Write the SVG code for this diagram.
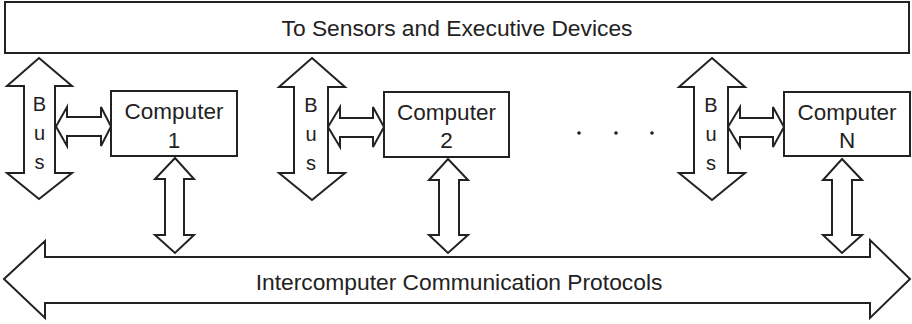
<svg xmlns="http://www.w3.org/2000/svg" width="912" height="324" viewBox="0 0 912 324">
<style>
.s{fill:#fff;stroke:#222;stroke-width:2;stroke-linejoin:miter}
.t{font-family:"Liberation Sans",Arial,sans-serif;fill:#222;text-anchor:middle}
.big{font-size:22.8px}
.cmp{font-size:22.5px}
.bus{font-size:20px}
</style>
<rect width="912" height="324" fill="#fff"/>
<g id="sensors">
<rect class="s" x="5" y="2" width="904" height="51"/>
<text class="t big" x="457" y="36">To Sensors and Executive Devices</text>
</g>
<g id="protocols">
<polygon class="s" points="4,279 45,241 45,257 870,257 870,240 910,279 870,318 870,303 45,303 45,318"/>
<text class="t big" x="459" y="290">Intercomputer Communication Protocols</text>
</g>
<g id="bus1">
<polygon class="s" points="39,58 72,86 55,86 55,173 72,173 39,199 7,173 24,173 24,86 7,86"/>
<text class="t bus" x="39.5" y="111">B</text>
<text class="t bus" x="39.5" y="140">u</text>
<text class="t bus" x="39.5" y="169">s</text>
</g>
<g id="bus2">
<polygon class="s" points="312,58 345,87 328,87 328,173 345,173 312,200 279,173 294,173 294,87 279,87"/>
<text class="t bus" x="311" y="112">B</text>
<text class="t bus" x="311" y="141">u</text>
<text class="t bus" x="311" y="170">s</text>
</g>
<g id="bus3">
<polygon class="s" points="712,58 745,87 728,87 728,173 745,173 712,200 679,173 694,173 694,87 679,87"/>
<text class="t bus" x="711" y="112">B</text>
<text class="t bus" x="711" y="141">u</text>
<text class="t bus" x="711" y="170">s</text>
</g>
<g id="computer1">
<rect class="s" x="111" y="91" width="126" height="65"/>
<text class="t cmp" x="174" y="119">Computer</text>
<text class="t cmp" x="174" y="148">1</text>
</g>
<g id="computer2">
<rect class="s" x="384" y="92" width="125" height="65"/>
<text class="t cmp" x="446.5" y="120">Computer</text>
<text class="t cmp" x="446.5" y="148">2</text>
</g>
<g id="computerN">
<rect class="s" x="784" y="92" width="126" height="64"/>
<text class="t cmp" x="847" y="120">Computer</text>
<text class="t cmp" x="847" y="148">N</text>
</g>
<g id="dots" fill="#222">
<circle cx="579" cy="133" r="1.8"/>
<circle cx="616" cy="133" r="1.8"/>
<circle cx="652" cy="133" r="1.8"/>
</g>
<g id="connectors">
<polygon class="s" points="56,126.5 67,107 67,117 101,117 101,107 111,126.5 101,146 101,136 67,136 67,146"/>
<polygon class="s" points="328,127 340,107 340,118 373,118 373,107 384,127 373,147 373,137 340,137 340,147"/>
<polygon class="s" points="728,127 740,107 740,118 773,118 773,107 784,127 773,147 773,137 740,137 740,147"/>
<polygon class="s" points="175,158 194,179 184,179 184,235 194,235 175,253 155,235 165,235 165,179 155,179"/>
<polygon class="s" points="448,159 468,180 459,180 459,235 468,235 448,253 429,235 439,235 439,180 429,180"/>
<polygon class="s" points="842,159 862,180 852,180 852,235 862,235 842,253 823,235 832,235 832,180 823,180"/>
</g>
</svg>
